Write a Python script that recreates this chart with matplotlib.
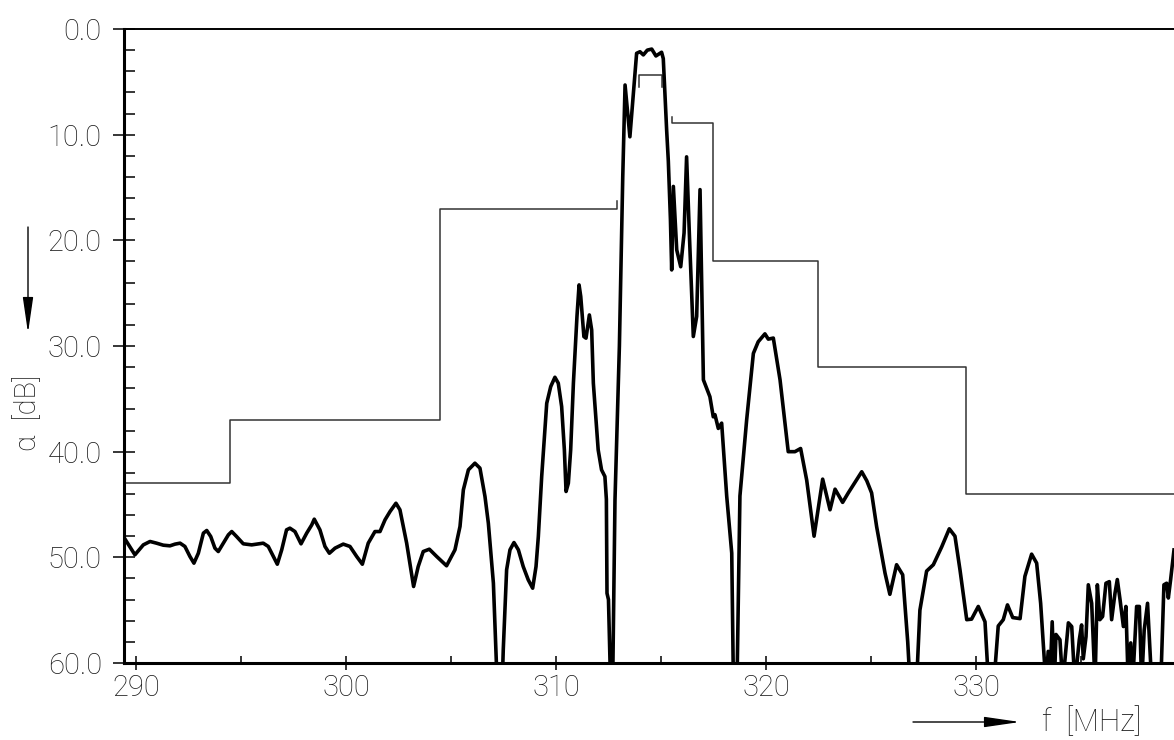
import matplotlib
matplotlib.use("Agg")
import matplotlib.pyplot as plt
from matplotlib.ticker import MultipleLocator, FormatStrFormatter

# measured attenuation curve (values past 60 dB are clipped by the axis)
freq = [289.40, 289.95, 290.35, 290.67, 290.98, 291.30, 291.62, 291.86, 292.10, 292.33,
        292.57, 292.76, 292.97, 293.21, 293.37, 293.56, 293.76, 293.92, 294.16, 294.40,
        294.56, 294.79, 295.11, 295.51, 296.06, 296.30, 296.54, 296.73, 296.94, 297.17,
        297.33, 297.57, 297.86, 298.13, 298.37, 298.49, 298.76, 299.00, 299.21, 299.48,
        299.87, 300.19, 300.51, 300.78, 301.06, 301.38, 301.62, 301.86, 302.10, 302.38,
        302.57, 302.89, 303.22, 303.44, 303.68, 303.97, 304.32, 304.79, 305.19, 305.43,
        305.59, 305.83, 306.14, 306.38, 306.62, 306.78, 307.02, 307.14, 307.20, 307.44,
        307.49, 307.65, 307.81, 308.00, 308.21, 308.44, 308.68, 308.89, 309.05, 309.16,
        309.32, 309.56, 309.75, 309.95, 310.11, 310.27, 310.40, 310.48, 310.59, 310.70,
        310.83, 311.00, 311.10, 311.18, 311.33, 311.43, 311.59, 311.70, 311.78, 312.01,
        312.17, 312.33,
        312.40, 312.43, 312.50, 312.60, 312.70, 312.81, 313.02, 313.18, 313.29, 313.52,
        313.84, 314.00, 314.16, 314.35, 314.56, 314.76, 315.03, 315.11, 315.27, 315.35,
        315.45, 315.51, 315.59, 315.75, 315.94, 316.10, 316.22, 316.35, 316.54, 316.70,
        316.86, 316.94, 317.02, 317.33, 317.49, 317.57, 317.73, 317.89, 318.13, 318.37,
        318.45, 318.62, 318.76, 319.08, 319.40, 319.63, 319.95, 320.11, 320.35, 320.67,
        321.06, 321.38, 321.65, 321.94, 322.29, 322.70, 323.05, 323.29, 323.65, 323.92,
        324.24, 324.56, 324.80, 325.03, 325.27, 325.67, 325.90, 326.22, 326.51, 326.75,
        326.86, 327.17, 327.33, 327.65, 327.97, 328.37, 328.73, 329.00, 329.24, 329.56,
        329.79, 330.11, 330.43, 330.60, 330.85, 331.06, 331.30, 331.50, 331.75, 332.10,
        332.33, 332.65, 332.89, 333.08, 333.33, 333.44, 333.52, 333.63, 333.73, 333.81,
        334.00, 334.13, 334.40, 334.56, 334.71, 334.92, 335.03, 335.11, 335.24, 335.35,
        335.51, 335.67, 335.78, 335.90, 336.03, 336.19, 336.35, 336.46, 336.62, 336.73,
        336.86, 337.02, 337.14, 337.25, 337.37, 337.46, 337.65, 337.78, 337.89, 338.01,
        338.17, 338.37, 338.80, 338.95, 339.08, 339.16, 339.27, 339.43]
atten = [48.03, 49.76, 48.82, 48.50, 48.66, 48.85, 48.91, 48.75, 48.66, 48.97,
         49.92, 50.55, 49.61, 47.71, 47.46, 48.03, 49.13, 49.45, 48.66, 47.87,
         47.56, 48.03, 48.72, 48.82, 48.66, 48.97, 49.92, 50.65, 49.29, 47.40,
         47.24, 47.56, 48.72, 47.71, 46.93, 46.39, 47.40, 48.97, 49.61, 49.13,
         48.75, 48.97, 49.92, 50.65, 48.66, 47.56, 47.56, 46.45, 45.66, 44.88,
         45.50, 48.66, 52.76, 50.87, 49.45, 49.23, 49.92, 50.80, 49.29, 47.08,
         43.61, 41.72, 41.09, 41.56, 44.25, 46.77, 52.44, 58.75, 62.0, 62.0,
         58.75, 51.18, 49.29, 48.60, 49.29, 50.87, 52.13, 52.92, 50.87, 48.03,
         42.35, 35.42, 33.84, 32.96, 33.52, 35.73, 39.83, 43.77, 42.98, 39.83,
         33.52, 27.20, 24.22, 25.32, 29.11, 29.26, 27.06, 28.48, 33.52, 39.83,
         41.72, 42.35,
         44.5, 53.4, 54.0, 62.0, 62.0, 44.6, 30.0, 14.0, 5.3, 10.2,
         2.3, 2.15, 2.45, 2.0, 1.9, 2.55, 2.2, 2.8, 9.55, 12.5,
         18.0, 22.8, 14.9, 20.9, 22.5, 19.3, 12.1, 19.3, 29.1, 27.2,
         15.2, 24.1, 33.2, 34.8, 36.7, 36.5, 37.8, 37.3, 44.2, 49.6,
         62.0, 62.0, 44.2, 37.0, 30.7, 29.6, 28.85, 29.35, 29.25, 33.2,
         40.0, 40.0, 39.7, 42.7, 48.0, 42.6, 45.5, 43.55, 44.8, 43.9,
         42.9, 41.9, 42.75, 43.9, 47.1, 51.5, 53.5, 50.7, 51.65, 58.0,
         62.0, 62.0, 55.0, 51.3, 50.7, 49.0, 47.3, 48.0, 51.2, 55.9,
         55.85, 54.65, 56.1, 62.0, 62.0, 56.5, 55.9, 54.5, 55.7, 55.8,
         51.8, 49.7, 50.55, 54.35, 62.0, 58.9, 62.0, 56.1, 62.0, 57.3,
         57.8, 62.0, 56.2, 56.55, 62.0, 57.8, 56.4, 59.6, 57.5, 52.6,
         54.35, 62.0, 52.6, 55.9, 55.6, 52.45, 52.3, 55.9, 53.4, 52.1,
         54.0, 56.55, 54.65, 62.0, 58.1, 62.0, 54.65, 54.65, 62.0, 56.9,
         54.35, 62.0, 62.0, 52.6, 52.45, 53.85, 52.1, 49.3]
assert len(freq) == len(atten)

# tolerance mask, three pieces
mask_stop_f = [289.43, 294.5, 294.5, 304.5, 304.5, 312.92, 312.92]
mask_stop_a = [43.0, 43.0, 37.0, 37.0, 17.0, 17.0, 16.3]
mask_pass_f = [313.97, 313.97, 315.03, 315.03]
mask_pass_a = [5.45, 4.4, 4.4, 5.45]
mask_upper_f = [315.51, 315.51, 317.49, 317.49, 322.48, 322.48, 329.52, 329.52, 339.43]
mask_upper_a = [8.35, 8.93, 8.93, 22.0, 22.0, 32.0, 32.0, 44.0, 44.0]

plt.rcParams["font.family"] = ["Roboto", "DejaVu Sans"]
plt.rcParams["font.weight"] = "light"

fig = plt.figure(figsize=(11.74, 7.40), dpi=100)
ax = fig.add_axes([124 / 1174, 1 - 663 / 740, 1 - 124 / 1174, (663 - 29) / 740])

ax.plot(mask_stop_f, mask_stop_a, color="#333333", lw=1.1)
ax.plot(mask_pass_f, mask_pass_a, color="#333333", lw=1.1)
ax.plot(mask_upper_f, mask_upper_a, color="#333333", lw=1.1)
ax.plot(freq, atten, color="black", lw=2.6, solid_joinstyle="round")

ax.set_xlim(289.43, 339.43)
ax.set_ylim(60, 0)

ax.yaxis.set_major_locator(MultipleLocator(10))
ax.yaxis.set_minor_locator(MultipleLocator(2))
ax.yaxis.set_major_formatter(FormatStrFormatter("%.1f"))
ax.xaxis.set_major_locator(MultipleLocator(10))
ax.xaxis.set_minor_locator(MultipleLocator(5))

ax.tick_params(axis="y", which="major", direction="inout", length=16, width=1.1,
               labelsize=21, pad=8)
ax.tick_params(axis="y", which="minor", direction="in", length=8, width=1.1)
ax.tick_params(axis="x", which="major", direction="inout", length=9.5, width=1.1,
               labelsize=21, pad=3)
ax.tick_params(axis="x", which="minor", direction="in", length=4.7, width=1.1)
for lab in ax.get_xticklabels() + ax.get_yticklabels():
    lab.set_color("#1a1a1a")

ax.spines["right"].set_visible(False)
ax.spines["left"].set_linewidth(2.2)
ax.spines["bottom"].set_linewidth(2.2)
ax.spines["top"].set_linewidth(1.4)

# axis captions with direction arrows
fig.text(28 / 1174, 1 - 413 / 740, "\u03b1  [dB]", rotation=90, ha="center",
         va="center", fontsize=21, color="#1a1a1a")
fig.text(1092 / 1174, 1 - 722 / 740, "f  [MHz]", ha="center", va="center",
         fontsize=22, color="#1a1a1a")
arrow = dict(arrowstyle="-|>,head_length=1.1,head_width=0.16", color="black",
             lw=1.0, mutation_scale=20, shrinkA=0, shrinkB=0)
ax.annotate("", xy=(28 / 1174, 1 - 333 / 740), xytext=(28 / 1174, 1 - 227 / 740),
            xycoords="figure fraction", textcoords="figure fraction",
            arrowprops=arrow, annotation_clip=False)
ax.annotate("", xy=(1020 / 1174, 1 - 722 / 740), xytext=(913 / 1174, 1 - 722 / 740),
            xycoords="figure fraction", textcoords="figure fraction",
            arrowprops=arrow, annotation_clip=False)

fig.savefig("out.png", dpi=100)
